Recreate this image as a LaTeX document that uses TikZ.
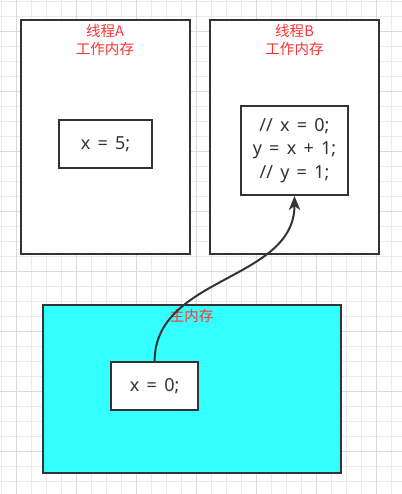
\documentclass[tikz,border=0pt]{standalone}
\usepackage{fontspec}
\setmainfont{Noto Sans}
\newfontfamily\cjkfont{Noto Sans CJK SC}
\newfontfamily\codefont[WordSpace=1.55]{Noto Sans}
\usetikzlibrary{arrows.meta, positioning}
\definecolor{gridminor}{HTML}{EBEBEB}
\definecolor{gridmajor}{HTML}{DADADA}
\definecolor{boxline}{HTML}{333333}
\definecolor{labelred}{HTML}{FF3333}
\definecolor{mainfill}{HTML}{33FFFF}
\definecolor{codegray}{HTML}{333333}

\begin{document}
\begin{tikzpicture}[x=0.75pt, y=-0.75pt,
  membox/.style={draw=boxline, line width=1.5pt, fill=white, inner sep=0pt},
  varbox/.style={draw=boxline, line width=1.5pt, fill=white, inner sep=0pt, align=center,
    font=\codefont\fontsize{13.5}{17.5}\selectfont, text=codegray},
  memlabel/.style={font=\cjkfont\fontsize{10.9}{13.7}\selectfont, text=labelred, align=center, inner sep=0pt}]
  \useasboundingbox (0,0) rectangle (402,494);
  \fill[white] (0,0) rectangle (402,494);

  % Background grid
  \foreach \k in {0,...,26}
    \draw[gridminor, line width=0.75pt] ({1.7+15*\k},0) -- ({1.7+15*\k},494);
  \foreach \k in {0,...,32}
    \draw[gridminor, line width=0.75pt] (0,{1.7+15*\k}) -- (402,{1.7+15*\k});
  \foreach \k in {0,...,6}
    \draw[gridmajor, line width=0.75pt] ({16.7+60*\k},0) -- ({16.7+60*\k},494);
  \foreach \k in {0,...,7}
    \draw[gridmajor, line width=0.75pt] (0,{31.7+60*\k}) -- (402,{31.7+60*\k});

  % Working memory of the two threads
  \node[membox, minimum width=127pt, minimum height=175.5pt] (threadA) at (105.35,137) {};
  \node[memlabel] (labelA) at (105,40) {线程A\\工作内存};
  \node[varbox, minimum width=69.75pt, minimum height=36pt] (varA) at (105.5,144) {x = 5;};

  \node[membox, minimum width=126.75pt, minimum height=175.5pt] (threadB) at (294.5,137) {};
  \node[memlabel] (labelB) at (294.5,40) {线程B\\工作内存};
  \node[varbox, minimum width=80.7pt, minimum height=66.75pt] (varB) at (294.5,150.5)
    {// x = 0;\\y = x + 1;\\// y = 1;};

  % Main memory
  \node[membox, fill=mainfill, minimum width=223.7pt, minimum height=125.8pt] (mainmem) at (191.85,388.85) {};
  \node[memlabel] (labelMain) at (191.7,315.7) {主内存};
  \node[varbox, minimum width=65.5pt, minimum height=36.2pt] (varMain) at (154.65,386.15) {x = 0;};

  % Read from main memory
  \draw[-{Stealth[length=10.5pt, width=8.5pt, inset=3pt]}, boxline, line width=1.5pt]
    (varMain.north) .. controls +(0,-85) and +(0,85) .. (varB.south);
\end{tikzpicture}
\end{document}
